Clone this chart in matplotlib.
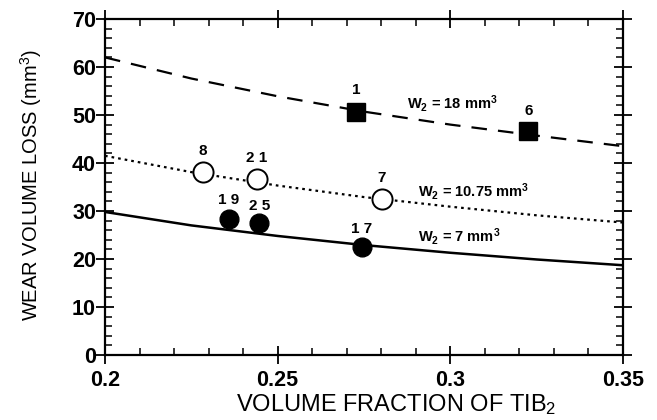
import matplotlib
matplotlib.use('Agg')
import matplotlib.pyplot as plt
from matplotlib.ticker import MultipleLocator

plt.rcParams['font.family'] = ['Liberation Sans', 'DejaVu Sans']
plt.rcParams['mathtext.default'] = 'regular'

# fitted curves
curve_x = [0.2, 0.225, 0.25, 0.275, 0.3, 0.325, 0.35]
w18_curve = [62.0, 57.6, 53.9, 50.7, 48.0, 45.7, 43.5]
w1075_curve = [41.5, 38.1, 35.3, 32.9, 30.9, 29.1, 27.6]
w7_curve = [29.8, 27.0, 24.8, 22.9, 21.3, 19.9, 18.7]

# measured points
sq_x = [0.2727, 0.3226]
sq_y = [50.6, 46.7]
sq_lbl = ['1', '6']

open_x = [0.2283, 0.2439, 0.2801]
open_y = [38.2, 36.6, 32.5]
open_lbl = ['8', '2 1', '7']

fill_x = [0.2359, 0.2447, 0.2743]
fill_y = [28.3, 27.4, 22.4]
fill_lbl = ['1 9', '2 5', '1 7']

fig = plt.figure(figsize=(6.57, 4.2), dpi=100)
ax = fig.add_axes([105 / 657, 65 / 420, 518 / 657, 336 / 420])

ax.plot(curve_x, w18_curve, color='black', lw=1.6, dashes=(7, 5))
ax.plot(curve_x, w1075_curve, color='black', lw=1.6, dashes=(1.2, 1.8))
ax.plot(curve_x, w7_curve, color='black', lw=1.8)

ax.plot(sq_x, sq_y, 's', ms=13.5, color='black', zorder=3)
ax.plot(open_x, open_y, 'o', ms=14.5, mfc='white', mec='black', mew=1.4, zorder=3)
ax.plot(fill_x, fill_y, 'o', ms=13.5, color='black', zorder=3)

# point labels
lbl_style = dict(ha='center', va='center', fontsize=11, fontweight='bold')
ax.text(sq_x[0], 55.2, sq_lbl[0], **lbl_style)
ax.text(sq_x[1], 50.8, sq_lbl[1], **lbl_style)
ax.text(open_x[0], 42.6, open_lbl[0], **lbl_style)
ax.text(open_x[1], 41.0, open_lbl[1], **lbl_style)
ax.text(open_x[2], 36.9, open_lbl[2], **lbl_style)
ax.text(fill_x[0], 32.3, fill_lbl[0], **lbl_style)
ax.text(fill_x[1], 31.0, fill_lbl[1], **lbl_style)
ax.text(fill_x[2], 26.3, fill_lbl[2], **lbl_style)

# curve labels
crv_style = dict(ha='left', va='center', fontsize=10.5, fontweight='bold')
ax.text(0.2875, 52.3, 'W$_2$ = 18 mm$^3$', **crv_style)
ax.text(0.2906, 34.0, 'W$_2$ = 10.75 mm$^3$', **crv_style)
ax.text(0.2906, 24.6, 'W$_2$ = 7 mm$^3$', **crv_style)

ax.set_xlim(0.2, 0.35)
ax.set_ylim(0, 70)
ax.set_xticks([0.2, 0.25, 0.3, 0.35])
ax.set_xticklabels(['0.2', '0.25', '0.3', '0.35'])
ax.xaxis.set_minor_locator(MultipleLocator(0.01))
ax.yaxis.set_major_locator(MultipleLocator(10))
ax.yaxis.set_minor_locator(MultipleLocator(2))

for s in ax.spines.values():
    s.set_linewidth(1.6)

ax.tick_params(which='major', direction='inout', length=13, width=1.3,
               top=True, right=True, labelsize=15.5)
ax.tick_params(which='minor', direction='in', length=5, width=1.1,
               top=True, right=True)
ax.tick_params(axis='y', which='major', pad=0)
ax.tick_params(axis='x', which='major', pad=4)
for lab in ax.get_xticklabels() + ax.get_yticklabels():
    lab.set_fontweight('bold')

fig.text(396 / 657, 1 - 405 / 420, 'VOLUME FRACTION OF TIB$_2$',
         ha='center', va='center', fontsize=17)
fig.text(31 / 657, 1 - 185 / 420, 'WEAR VOLUME LOSS (mm$^3$)',
         ha='center', va='center', rotation=90, fontsize=14.5)

fig.savefig('out.png', dpi=100)
